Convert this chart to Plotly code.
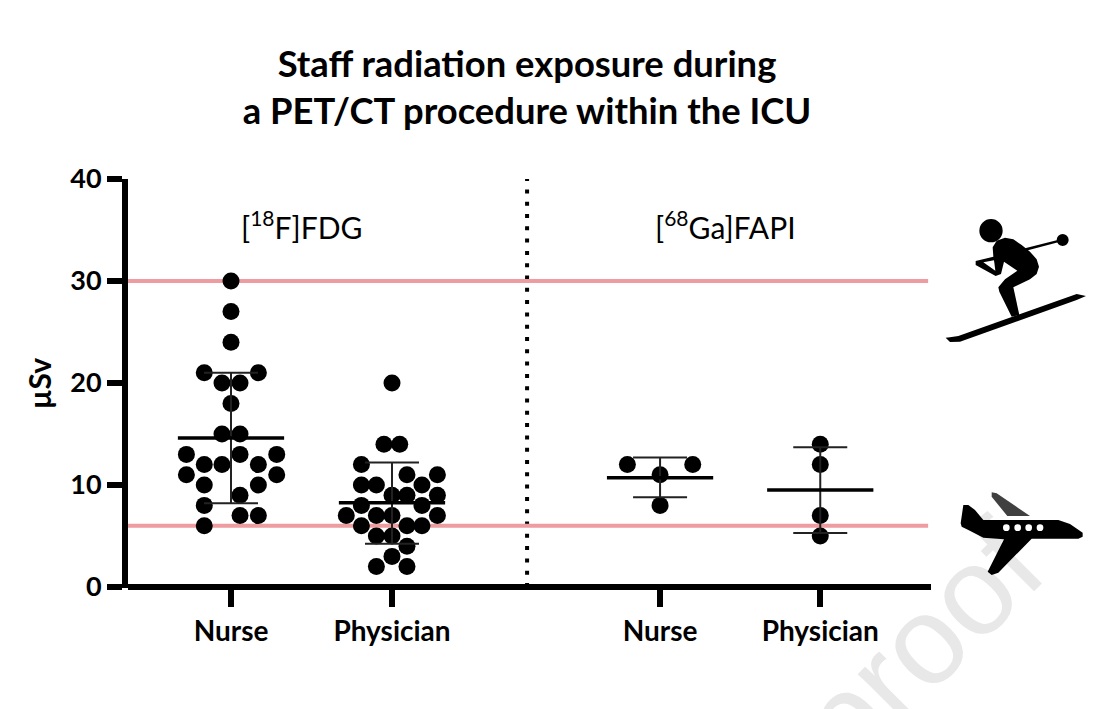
import plotly.graph_objects as go

W, H = 1117, 709

# swarm values in uSv, offsets are sideways from the category centre (x axis units)
nurse_fdg = [30, 27, 24, 21, 21, 20, 20, 18, 15, 15, 13, 13, 13, 12, 12, 12, 11, 11, 10, 10, 9, 8, 7, 7, 6]
nurse_fdg_off = [0, 0, 0, -.166, .170, -.056, .056, 0, -.056, .056, -.277, .056, .284, -.166, -.056, .170,
                 -.277, .284, -.166, .170, .056, -.166, .056, .170, -.166]
phys_fdg = [20, 14, 14, 12, 11, 11, 10, 10, 10, 9, 9, 9, 8, 8, 7, 7, 7, 7, 6, 6, 6, 5, 5, 4, 3, 2, 2]
phys_fdg_off = [0, -.05, .048, -.19, .093, .282, -.19, -.097, .186, 0, .093, .282, -.19, .186, -.284, -.097,
                0, .282, -.19, .093, .186, -.097, 0, .093, 0, -.097, .093]
nurse_ga = [12, 12, 11, 8]
nurse_ga_off = [-.203, .203, 0, 0]
phys_ga = [14, 12, 7, 5]
phys_ga_off = [0, 0, 0, 0]

categories = ['Nurse', 'Physician', 'Nurse', 'Physician']
cat_x = [1, 2, 3.665, 4.66]
means = [14.6, 8.25, 10.7, 9.5]
err_low = [8.2, 4.25, 8.8, 5.3]
err_high = [21, 12.2, 12.7, 13.7]
limits = [30, 6]
y_ticks = [0, 10, 20, 30, 40]


def paper_path(points):
    # points are page pixels, shapes want paper fractions
    return 'M' + ' L'.join(f'{x / W:.5f},{1 - y / H:.5f}' for x, y in points) + ' Z'


def crop(points):
    # icon outlines were traced on the 3x crop of the right hand margin
    return [(930 + x / 3, 200 + y / 3) for x, y in points]


def dot(cx, cy, r, color):
    x, y = 930 + cx / 3, 200 + cy / 3
    r = r / 3
    return dict(type='circle', xref='paper', yref='paper', x0=(x - r) / W, x1=(x + r) / W,
                y0=1 - (y + r) / H, y1=1 - (y - r) / H, fillcolor=color, line_width=0, layer='above')


def poly(points, color):
    return dict(type='path', xref='paper', yref='paper', path=paper_path(crop(points)),
                fillcolor=color, line_width=0, layer='above')


fig = go.Figure()

swarms = [(nurse_fdg, nurse_fdg_off), (phys_fdg, phys_fdg_off), (nurse_ga, nurse_ga_off), (phys_ga, phys_ga_off)]
for i, (vals, offs) in enumerate(swarms):
    fig.add_scatter(x=[cat_x[i] + o for o in offs], y=vals, mode='markers',
                    marker=dict(color='black', size=17), showlegend=False)
    fig.add_scatter(x=[cat_x[i]], y=[means[i]], mode='markers', marker=dict(color='black', size=1), showlegend=False,
                    error_x=dict(type='constant', value=0.33, width=0, thickness=3.5, color='black'),
                    error_y=dict(type='data', symmetric=False, array=[err_high[i] - means[i]],
                                 arrayminus=[means[i] - err_low[i]], width=27, thickness=2, color='#222222'))

shapes = []
for v in limits:
    shapes.append(dict(type='line', xref='x', yref='y', x0=0.36, x1=5.33, y0=v, y1=v, layer='below',
                       line=dict(color='#ee9c9f', width=4)))
shapes.append(dict(type='line', xref='x', yref='paper', x0=2.839, x1=2.839, y0=1 - 587 / H, y1=1 - 179 / H,
                   layer='below', line=dict(color='black', width=4, dash='4px,8.3px')))

# watermark, sits under everything so the plane covers it
shapes.append(dict(type='line', xref='paper', yref='paper', x0=830 / W, x1=1090 / W, y0=1 - 818 / H, y1=1 - 558 / H,
                   layer='below', line_width=0, label=dict(text='proof', textposition='middle', textangle=-45,
                   font=dict(family='Liberation Sans', size=125, color='#e8e8e8'))))

# skier
shapes += [
    dot(183, 92, 35, 'black'),
    dot(398, 120, 18, 'black'),
    poly([(285, 145), (395, 117), (396, 124), (288, 152)], 'black'),
    poly([(188, 142), (200, 122), (225, 113), (250, 118), (275, 135), (300, 155), (320, 178), (327, 200), (320, 222),
          (300, 238), (250, 262), (268, 345), (245, 350), (208, 275), (205, 262), (225, 238), (262, 212), (222, 185),
          (213, 222), (197, 228), (137, 195), (137, 183), (190, 170)], 'black'),
    poly([(160, 187), (192, 181), (196, 212)], 'white'),
    poly([(47, 413), (60, 412), (85, 408), (440, 282), (468, 288), (440, 300), (90, 425), (60, 426)], 'black'),
]
# plane
shapes += [
    poly([(185, 877), (200, 880), (300, 948), (232, 948), (185, 890)], '#404040'),
    poly([(92, 970), (100, 915), (115, 915), (135, 930), (160, 960), (385, 960), (420, 972), (458, 998), (458, 1010),
          (445, 1016), (305, 1016), (205, 1118), (185, 1125), (173, 1115), (222, 1018), (160, 1013), (115, 990),
          (95, 980)], 'black'),
]
shapes += [dot(x, 983, 10, 'white') for x in [229, 263, 296, 330]]

fig.update_layout(
    width=W, height=H,
    margin=dict(l=0, r=0, t=0, b=0, autoexpand=False),
    paper_bgcolor='white', plot_bgcolor='rgba(0,0,0,0)',
    font=dict(family='Lato', color='black'),
    title=dict(text='<b>Staff radiation exposure during<br>a PET/CT procedure within the ICU</b>',
               x=527 / W, xanchor='center', y=1 - 77 / H, yanchor='middle', font=dict(size=36.4)),
    shapes=shapes,
    annotations=[
        dict(x=1.435, y=35.5, xref='x', yref='y', text='[<sup>18</sup>F]FDG', showarrow=False, font=dict(size=30)),
        dict(x=4.07, y=35.5, xref='x', yref='y', text='[<sup>68</sup>Ga]FAPI', showarrow=False, font=dict(size=30)),
    ],
)
fig.update_xaxes(domain=[128 / W, 931 / W], range=[1 - 103 / 161, 1 + 700 / 161], showgrid=False, zeroline=False,
                 automargin=False, showline=False, tickmode='array', tickvals=cat_x,
                 ticktext=[f'<b>{c}</b>' for c in categories], ticks='outside', ticklen=18, tickwidth=6,
                 tickcolor='black', tickfont=dict(size=28), ticklabelstandoff=0)
fig.update_yaxes(domain=[1 - 588.2 / H, 1 - 179 / H], range=[-0.12, 40], showgrid=False, zeroline=True,
                 automargin=False, zerolinewidth=6, zerolinecolor='black', showline=True, linewidth=6,
                 linecolor='black', tickmode='array', tickvals=y_ticks, ticktext=[f'<b>{t}</b>' for t in y_ticks],
                 ticks='outside', ticklen=15, tickwidth=6, tickcolor='black', tickfont=dict(size=27),
                 ticklabelstandoff=0, title=dict(text='<b>µSv</b>', font=dict(size=30), standoff=12))

# page body has a default margin that would push everything 8px
fig.write_html("out.html", config={'displayModeBar': False}, post_script="document.body.style.margin='0';")
